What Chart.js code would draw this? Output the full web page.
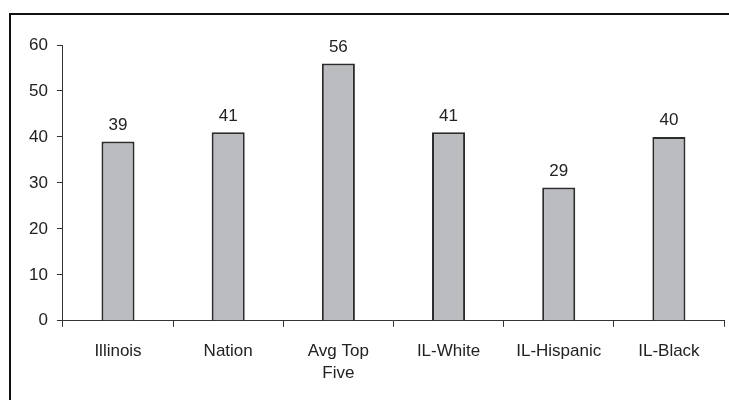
<!DOCTYPE html>
<html>
<head>
<meta charset="utf-8">
<script src="https://cdn.jsdelivr.net/npm/chart.js@4.4.0/dist/chart.umd.min.js"></script>
<style>
  html, body { margin: 0; padding: 0; background: #fff; }
  #wrap { position: relative; width: 729px; height: 400px; overflow: hidden; }
  #frame { position: absolute; left: 9px; top: 13px; width: 800px; height: 500px; border-left: 2px solid #111; border-top: 2px solid #111; }
  canvas { position: absolute; left: 0; top: 0; }
</style>
</head>
<body>
<div id="wrap">
  <div id="frame"></div>
  <canvas id="c" width="729" height="400"></canvas>
</div>
<script>
const categories = ["Illinois", "Nation", ["Avg Top", "Five"], "IL-White", "IL-Hispanic", "IL-Black"];
const values = [39, 41, 56, 41, 29, 40];
const yTicks = [0, 10, 20, 30, 40, 50, 60];

const FAMILY = "'Liberation Sans', Arial, sans-serif";
const FONT = { family: FAMILY, size: 17, lineHeight: 1.3 };

const valueLabels = {
  id: 'valueLabels',
  afterDatasetsDraw(chart) {
    const ctx = chart.ctx;
    const meta = chart.getDatasetMeta(0);
    ctx.save();
    ctx.font = FONT.size + "px " + FAMILY;
    ctx.fillStyle = '#222';
    ctx.textAlign = 'center';
    ctx.textBaseline = 'bottom';
    meta.data.forEach((bar, i) => {
      ctx.fillText(String(values[i]), bar.x, bar.y - 8);
    });
    ctx.restore();
  }
};

new Chart(document.getElementById('c'), {
  type: 'bar',
  data: {
    labels: categories,
    datasets: [{
      data: values,
      backgroundColor: '#bbbcc0',
      borderColor: '#2b2b2b',
      borderWidth: 2,
      barPercentage: 0.3,
      categoryPercentage: 1.0
    }]
  },
  options: {
    responsive: false,
    animation: false,
    devicePixelRatio: 1,
    layout: { padding: { left: 20, right: 5, top: 45, bottom: 3 } },
    plugins: { legend: { display: false }, tooltip: { enabled: false } },
    scales: {
      x: {
        grid: { drawOnChartArea: false, drawTicks: true, tickLength: 6, color: '#333', offset: true },
        border: { display: true, color: '#333', width: 1 },
        ticks: { color: '#222', font: FONT, padding: 13, maxRotation: 0, autoSkip: false }
      },
      y: {
        min: 0, max: 60,
        afterBuildTicks(axis) { axis.ticks = yTicks.map(v => ({ value: v })); },
        grid: { drawOnChartArea: false, drawTicks: true, tickLength: 6, color: '#333' },
        border: { display: true, color: '#333', width: 1 },
        ticks: { color: '#222', font: FONT, padding: 9 }
      }
    }
  },
  plugins: [valueLabels]
});
</script>
</body>
</html>
